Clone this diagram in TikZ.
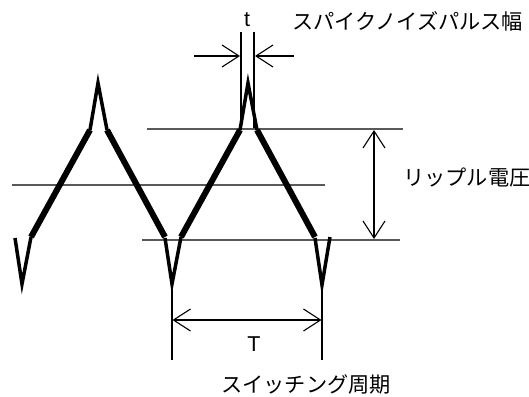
\documentclass[tikz,border=0pt]{standalone}
\usepackage{fontspec}
\setmainfont{Liberation Sans}
\newfontfamily\jpfont{Noto Sans CJK JP}
\usetikzlibrary{arrows.meta}

\tikzset{
  wave/.style={line width=6pt, line cap=butt},
  spike/.style={line width=3.5pt, line join=miter},
  level/.style={line width=1.5pt, draw=black!65},
  markline/.style={line width=1.1pt},
  dim/.style={line width=1.1pt, <->},
  jplbl/.style={inner sep=0pt, anchor=west, font=\jpfont\fontsize{21.2}{24}\selectfont},
  latlbl/.style={inner sep=0pt, font=\fontsize{21.5}{24}\selectfont}
}

\begin{document}
\begin{tikzpicture}[x=1pt, y=-1pt, >={Straight Barb[length=17pt,width=22pt]}]
  \useasboundingbox (0,0) rectangle (529,396);

  % Level lines (top, middle, bottom)
  \draw[level] (147,129) -- (403,129);
  \draw[level] (12,185) -- (325,185);
  \draw[level] (142,240) -- (400,240);

  % Waveform: one period is 150 wide
  \foreach \s in {0,150} {
    \draw[spike] (\s+15,238) -- (\s+22,284) -- (\s+31,237);
    \draw[wave]  (\s+31,237) -- (\s+90,130);
    \draw[spike] (\s+90,130) -- (\s+98,83) -- (\s+107,130);
    \draw[wave]  (\s+107,130) -- (\s+165,237);
  }
  \draw[spike] (315,238) -- (322,285) -- (330,237);

  % Spike width t
  \coordinate (tl) at (241,32);
  \coordinate (tr) at (254,32);
  \draw[markline] (tl) -- (241,128);
  \draw[markline] (tr) -- (254,128);
  \coordinate (tla) at (194,56);
  \coordinate (tra) at (294,56);
  \draw[markline, ->] (tla) -- (240,56);
  \draw[markline, ->] (tra) -- (255,56);

  % Ripple voltage
  \coordinate (rtop) at (374,130);
  \coordinate (rbot) at (374,239);
  \draw[dim] (rtop) -- (rbot);

  % Switching period T
  \coordinate (p1) at (172,287);
  \coordinate (p2) at (322,287);
  \draw[markline] (p1) -- (172,360);
  \draw[markline] (p2) -- (322,360);
  \coordinate (pa) at (172.5,320);
  \coordinate (pb) at (321.5,320);
  \draw[dim] (pa) -- (pb);

  % Labels
  \node[latlbl] (tlbl) at (247,20) {t};
  \node[jplbl] (spikelbl) at (292,21) {スパイクノイズパルス幅};
  \node[jplbl] (ripplelbl) at (403,178) {リップル電圧};
  \node[latlbl] (Tlbl) at (254,344) {T};
  \node[jplbl] (periodlbl) at (221,385) {スイッチング周期};
\end{tikzpicture}
\end{document}
